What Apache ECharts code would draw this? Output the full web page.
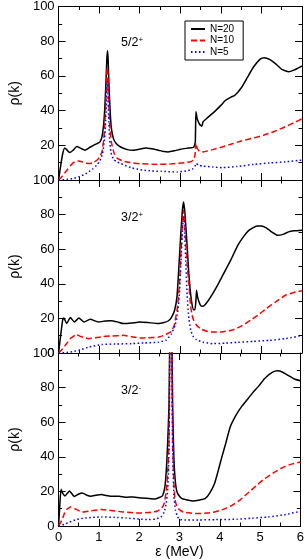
<!DOCTYPE html>
<html><head><meta charset="utf-8">
<script src="https://cdn.jsdelivr.net/npm/echarts@6/dist/echarts.min.js"></script>
<style>html,body{margin:0;padding:0;background:#fff}#c{width:307px;height:560px}</style>
</head><body><div id="c"></div>
<script>
// x ticks / y ticks
const xTicks = [0, 1, 2, 3, 4, 5, 6];
const yTicks = [0, 20, 40, 60, 80, 100];
const seriesNames = ['N=20', 'N=10', 'N=5'];
const panelLabels = ['5/2', '3/2', '3/2'];
const panelSup = ['+', '+', '-'];

// Panel 1 (5/2+) : [energy (MeV), rho(k)]
const p1N20 = [[0,0],[0.05,8],[0.1,15],[0.15,18.5],[0.2,17.5],[0.27,15.8],[0.35,17],[0.45,19.3],[0.55,18.2],[0.65,17.2],[0.75,18.5],[0.86,20],[0.95,21],[1.02,22],[1.07,25],[1.11,32],[1.14,42],[1.17,58],[1.19,70],[1.205,74.5],[1.22,70],[1.24,56],[1.27,40],[1.3,30],[1.35,24],[1.42,21],[1.53,19],[1.7,17.5],[1.84,17.2],[2.0,17.8],[2.15,18.5],[2.3,18],[2.46,17.2],[2.6,16.4],[2.7,16.2],[2.85,16.8],[3.01,17.7],[3.2,18.4],[3.33,18.9],[3.37,22],[3.385,39.5],[3.42,35],[3.48,32],[3.53,31],[3.56,33.5],[3.6,34.4],[3.7,36.5],[3.87,40],[4.0,43],[4.11,45.8],[4.25,47.8],[4.34,48.7],[4.5,53],[4.65,59],[4.8,65],[4.97,69.7],[5.07,70.5],[5.2,69.5],[5.36,66.8],[5.5,63.8],[5.67,62.4],[5.8,63.3],[5.9,64.5],[6.0,65.7]];
const p1N10 = [[0,0],[0.1,2.5],[0.2,5.5],[0.3,8.5],[0.4,10.5],[0.5,11],[0.6,10.3],[0.74,9.5],[0.85,10],[0.95,11.5],[1.02,13.4],[1.07,16.5],[1.11,23],[1.14,32],[1.17,48],[1.19,61],[1.2,65],[1.215,61],[1.235,47],[1.26,32],[1.3,22],[1.37,15.3],[1.45,12.5],[1.6,10.8],[1.76,10.1],[2.0,9.4],[2.46,9],[2.8,9.3],[3.1,10],[3.25,10.5],[3.32,11.5],[3.36,14],[3.385,21.4],[3.42,18],[3.48,16.5],[3.56,16.2],[3.8,17.5],[4.03,19],[4.3,21],[4.5,22.5],[4.8,24.2],[5.05,25.8],[5.3,27.8],[5.52,30],[5.8,33],[6.0,35.3]];
const p1N5 = [[0,0],[0.2,0.3],[0.35,0.8],[0.51,1.9],[0.7,4],[0.85,6.5],[0.94,8.6],[1.02,11],[1.08,15],[1.12,21],[1.15,29],[1.18,45],[1.2,57],[1.215,50],[1.235,35],[1.26,23],[1.29,16],[1.35,12],[1.45,10.3],[1.53,9.5],[1.8,7],[2.07,5.7],[2.3,5.2],[2.54,5],[2.93,4.6],[3.15,5.2],[3.3,6.3],[3.36,7.8],[3.39,9.6],[3.45,8.5],[3.56,8],[3.8,7.5],[4.03,7.1],[4.4,7.8],[4.81,9],[5.2,9.8],[5.59,10.5],[6.0,11.5]];

// Panel 2 (3/2+)
const p2N20 = [[0,0],[0.05,10],[0.1,19],[0.13,20.2],[0.2,17],[0.29,20.5],[0.39,17.9],[0.5,20.2],[0.63,17.9],[0.78,19.5],[0.98,17.9],[1.15,18.5],[1.29,18.7],[1.45,18],[1.6,17],[1.8,17.3],[2.0,17.9],[2.2,17.6],[2.46,17],[2.6,17.6],[2.7,18.5],[2.78,20.5],[2.86,24.7],[2.92,33],[2.97,51.7],[3.01,68],[3.05,82],[3.08,87.3],[3.11,82],[3.14,72],[3.17,61.3],[3.21,46],[3.25,35],[3.29,28],[3.33,25],[3.36,25],[3.385,30],[3.4,36.2],[3.43,32],[3.47,29],[3.5,27.5],[3.56,27],[3.65,29],[3.8,34.3],[3.95,40.5],[4.11,47.8],[4.25,54],[4.42,62.3],[4.55,67],[4.69,70.9],[4.89,73.4],[5.0,73.4],[5.12,72.3],[5.25,70],[5.4,68],[5.55,68.7],[5.67,70],[5.8,70.6],[6.0,71]];
const p2N10 = [[0,0],[0.1,2.5],[0.2,5.5],[0.3,8.5],[0.43,10.6],[0.55,9.5],[0.74,8.3],[0.9,8.8],[1.1,9.5],[1.29,9.8],[1.6,10.2],[1.8,9.4],[2.0,8.7],[2.2,8.8],[2.46,9.2],[2.6,10.2],[2.7,11.4],[2.78,12.5],[2.85,16],[2.93,26.6],[2.98,40],[3.02,60],[3.06,78],[3.08,82.5],[3.1,78],[3.14,62],[3.18,48],[3.21,40],[3.25,28],[3.29,22],[3.33,18.9],[3.4,16],[3.5,14],[3.65,12.6],[3.8,12.1],[4.0,12.2],[4.26,13.1],[4.5,15.5],[4.73,18.9],[4.95,22.5],[5.12,25.7],[5.35,29.5],[5.59,33.4],[5.8,35],[6.0,36]];
const p2N5 = [[0,0],[0.2,0.3],[0.35,0.8],[0.51,1.6],[0.75,3.5],[1.06,4.9],[1.4,5.2],[1.8,5.4],[2.1,5.8],[2.46,6.2],[2.65,7.5],[2.78,11],[2.87,16],[2.93,22],[2.98,35],[3.02,55],[3.06,74],[3.08,79],[3.1,74],[3.13,55],[3.17,33],[3.21,20],[3.26,13],[3.32,9.5],[3.4,7.7],[3.55,6.3],[3.8,5.4],[4.1,5.7],[4.42,6.2],[4.8,6.7],[5.2,7.3],[5.6,8.3],[6.0,10]];

// Panel 3 (3/2-)
const p3N20 = [[0,0],[0.03,12],[0.06,21.3],[0.1,19],[0.16,17.4],[0.27,20.3],[0.39,17.1],[0.5,18.5],[0.59,19.1],[0.7,17.8],[0.8,17.2],[0.93,17.8],[1.06,18.2],[1.18,17.6],[1.29,17.2],[1.5,17.2],[1.68,16.6],[1.85,16.8],[2.07,16.2],[2.25,15.9],[2.38,15.6],[2.5,16.5],[2.58,17.5],[2.64,23],[2.68,35],[2.71,50],[2.74,70],[2.755,100],[2.77,200],[2.785,400],[2.8,200],[2.815,100],[2.83,70],[2.86,40],[2.9,25],[2.95,19],[3.05,15.9],[3.2,15],[3.33,14.5],[3.5,15],[3.64,15.9],[3.75,19],[3.87,24.6],[3.95,31],[4.03,38.1],[4.15,48],[4.26,57.4],[4.4,64],[4.54,69],[4.68,73],[4.81,76.8],[4.97,81],[5.12,85.4],[5.3,88.8],[5.44,89.7],[5.55,89],[5.67,87.4],[5.85,85],[6.0,84]];
const p3N10 = [[0,0],[0.08,3.3],[0.14,7],[0.2,9.5],[0.3,11],[0.4,10],[0.59,8.1],[0.8,8.8],[1.06,9.5],[1.3,9],[1.6,8.1],[1.85,7.6],[2.07,7.5],[2.3,7.9],[2.46,8.7],[2.56,10.5],[2.62,13],[2.67,20],[2.71,32],[2.74,50],[2.755,90],[2.77,200],[2.785,400],[2.8,200],[2.815,90],[2.83,50],[2.86,25],[2.89,15],[2.95,10.5],[3.09,8.1],[3.3,7.4],[3.48,7.2],[3.7,7.5],[3.87,8.1],[4.05,9.3],[4.26,11.4],[4.5,15],[4.73,19.7],[4.93,23.8],[5.12,27.5],[5.35,31],[5.59,34.2],[5.8,35.9],[6.0,37]];
const p3N5 = [[0,0],[0.15,1],[0.27,2.3],[0.45,3.8],[0.66,4.6],[0.85,5],[1.06,5.2],[1.4,5],[1.68,4.6],[2.0,4],[2.22,3.7],[2.4,4],[2.54,5.2],[2.62,8],[2.67,13],[2.71,22],[2.74,45],[2.755,90],[2.77,200],[2.785,400],[2.8,200],[2.815,90],[2.83,45],[2.86,18],[2.9,9],[2.95,5.5],[3.01,3.7],[3.2,3.5],[3.48,3.5],[3.9,3.7],[4.42,3.9],[4.8,4.5],[5.2,5.2],[5.6,6.5],[6.0,8.5]];

const panels = [[p1N20, p1N10, p1N5], [p2N20, p2N10, p2N5], [p3N20, p3N10, p3N5]];

const FONT = 'Liberation Sans, Arial, sans-serif';
const gridTops = [5, 180, 353];
const gridH = [175, 173, 173];
const styles = [
  {color: '#000000', type: 'solid', width: 1.5},
  {color: '#ff0000', type: [6, 3], width: 1.5},
  {color: '#0000ff', type: [1.5, 2.5], width: 1.5}
];

const grid = [], xAxis = [], yAxis = [], series = [], title = [];
const tickLine = {show: true, inside: true, length: 7, lineStyle: {color: '#000', width: 1}};
const minorTick = {show: true, splitNumber: 2, length: 3.5, lineStyle: {color: '#000', width: 1}};
const axisLine = {show: true, onZero: false, lineStyle: {color: '#000', width: 1}};

for (let i = 0; i < 3; i++) {
  grid.push({left: 45, right: 5, top: gridTops[i], height: gridH[i], containLabel: false});
  const xmin = xTicks[0], xmax = xTicks[xTicks.length - 1];
  const ymin = yTicks[0], ymax = yTicks[yTicks.length - 1];
  xAxis.push({
    type: 'value', gridIndex: i, min: xmin, max: xmax, interval: 1, position: 'bottom',
    axisLine, axisTick: tickLine, minorTick, splitLine: {show: false},
    axisLabel: {show: i === 2, color: '#000', fontSize: 13, fontFamily: FONT, margin: 5},
    name: i === 2 ? 'ε (MeV)' : '', nameLocation: 'middle', nameGap: 17,
    nameTextStyle: {color: '#000', fontSize: 14, fontFamily: FONT}
  });
  xAxis.push({
    type: 'value', gridIndex: i, min: xmin, max: xmax, interval: 1, position: 'top',
    axisLine, axisTick: tickLine, minorTick, splitLine: {show: false}, axisLabel: {show: false}
  });
  yAxis.push({
    type: 'value', gridIndex: i, min: ymin, max: ymax, interval: 20, position: 'left',
    axisLine, axisTick: tickLine, minorTick, splitLine: {show: false},
    axisLabel: {color: '#000', fontSize: 13, fontFamily: FONT, margin: 4},
    name: 'ρ(k)', nameLocation: 'middle', nameGap: 28, nameRotate: 90,
    nameTextStyle: {color: '#000', fontSize: 14, fontFamily: FONT}
  });
  yAxis.push({
    type: 'value', gridIndex: i, min: ymin, max: ymax, interval: 20, position: 'right',
    axisLine, axisTick: tickLine, minorTick, splitLine: {show: false}, axisLabel: {show: false}
  });
  for (let s = 0; s < 3; s++) {
    series.push({
      name: seriesNames[s], type: 'line', xAxisIndex: 2 * i, yAxisIndex: 2 * i,
      data: panels[i][s], showSymbol: false, symbol: 'none', smooth: 0.15,
      clip: true, lineStyle: styles[s], itemStyle: {color: styles[s].color},
      animation: false, z: 2 + s
    });
  }
  title.push({
    text: '{a|' + panelLabels[i] + '}{s|' + panelSup[i] + '}',
    left: 121, top: gridTops[i] + 31, padding: 0,
    textStyle: {fontWeight: 'normal', rich: {
      a: {fontSize: 12.5, fontFamily: FONT, fontWeight: 'normal', color: '#000', lineHeight: 14},
      s: {fontSize: 8, fontFamily: FONT, fontWeight: 'normal', color: '#000', verticalAlign: 'top', lineHeight: 14}
    }}
  });
}

const chart = echarts.init(document.getElementById('c'), null, {renderer: 'canvas'});
chart.setOption({
  animation: false,
  backgroundColor: '#fff',
  title,
  grid, xAxis, yAxis, series,
  legend: {
    show: true,
    data: seriesNames, left: 185, top: 21, orient: 'vertical',
    itemWidth: 14, itemHeight: 9, itemGap: 1.5,
    borderColor: '#000', borderWidth: 1, borderRadius: 0, padding: [3, 9, 3, 5],
    backgroundColor: '#fff',
    itemStyle: {opacity: 0},
    textStyle: {fontSize: 10, fontFamily: FONT, color: '#000'},
    selectedMode: false, z: 10
  }
});
</script></body></html>
